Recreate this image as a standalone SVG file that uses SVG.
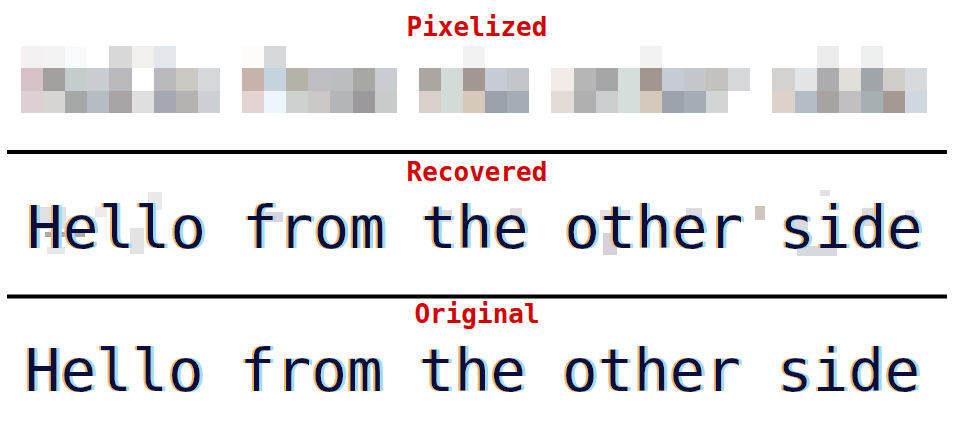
<svg xmlns="http://www.w3.org/2000/svg" width="973" height="425" viewBox="0 0 973 425">
<defs>
<style>
.lbl{font-family:"DejaVu Sans Mono","Liberation Mono",monospace;font-weight:bold;font-size:26px;fill:#d20000;text-anchor:middle}
.big{font-family:"DejaVu Sans Mono","Liberation Mono",monospace;font-size:59.5px;fill:#0e0c3e;filter:url(#ct)}
.rule{stroke:#000;stroke-width:4}
</style>
<filter id="ct" x="-2%" y="-10%" width="104%" height="120%">
<feOffset in="SourceAlpha" dx="-2.5" result="l"/>
<feFlood flood-color="#f7b868" result="lf"/>
<feComposite in="lf" in2="l" operator="in" result="lc"/>
<feOffset in="SourceAlpha" dx="2.5" result="r"/>
<feFlood flood-color="#9cdcff" result="rf"/>
<feComposite in="rf" in2="r" operator="in" result="rc"/>
<feMerge><feMergeNode in="lc"/><feMergeNode in="rc"/><feMergeNode in="SourceGraphic"/></feMerge>
</filter>
</defs>
<rect width="973" height="425" fill="#fff"/>

<g id="pixelized">
<text class="lbl" x="477" y="36">Pixelized</text>
<g id="pixel-grid" shape-rendering="crispEdges">
<!-- row 1 -->
<rect x="21" y="46" width="22.2" height="22.4" fill="#f5f0f1"/>
<rect x="43.1" y="46" width="22.2" height="22.4" fill="#f3f3f3"/>
<rect x="65.2" y="46" width="22.2" height="22.4" fill="#f8fbfe"/>
<rect x="109.4" y="46" width="22.2" height="22.4" fill="#d8d8d9"/>
<rect x="131.5" y="46" width="22.2" height="22.4" fill="#f2f0ec"/>
<rect x="153.6" y="46" width="22.2" height="22.4" fill="#e3e6ea"/>
<rect x="242" y="46" width="22.2" height="22.4" fill="#fdfcfa"/>
<rect x="264.1" y="46" width="22.2" height="22.4" fill="#d7d8dc"/>
<rect x="463" y="46" width="22.2" height="22.4" fill="#f2f2f2"/>
<rect x="639.8" y="46" width="22.2" height="22.4" fill="#f2f2f2"/>
<rect x="816.6" y="46" width="22.2" height="22.4" fill="#ebebeb"/>
<rect x="860.8" y="46" width="22.2" height="22.4" fill="#eef0ef"/>
<!-- row 2 -->
<rect x="21" y="68.3" width="22.2" height="22.4" fill="#d6c2c6"/>
<rect x="43.1" y="68.3" width="22.2" height="22.4" fill="#a49f9f"/>
<rect x="65.2" y="68.3" width="22.2" height="22.4" fill="#c4cccd"/>
<rect x="87.3" y="68.3" width="22.2" height="22.4" fill="#c9ccd1"/>
<rect x="109.4" y="68.3" width="22.2" height="22.4" fill="#b9b8bd"/>
<rect x="131.5" y="68.3" width="22.2" height="22.4" fill="#ffffff"/>
<rect x="153.6" y="68.3" width="22.2" height="22.4" fill="#b8b8bd"/>
<rect x="175.7" y="68.3" width="22.2" height="22.4" fill="#cbc8c3"/>
<rect x="197.8" y="68.3" width="22.2" height="22.4" fill="#d5d7db"/>
<rect x="242" y="68.3" width="22.2" height="22.4" fill="#c6b3aa"/>
<rect x="264.1" y="68.3" width="22.2" height="22.4" fill="#c5d3de"/>
<rect x="286.2" y="68.3" width="22.2" height="22.4" fill="#b5b2a9"/>
<rect x="308.3" y="68.3" width="22.2" height="22.4" fill="#bebdc3"/>
<rect x="330.4" y="68.3" width="22.2" height="22.4" fill="#bcbdc1"/>
<rect x="352.5" y="68.3" width="22.2" height="22.4" fill="#a7a7a3"/>
<rect x="374.6" y="68.3" width="22.2" height="22.4" fill="#c9ccd1"/>
<rect x="418.8" y="68.3" width="22.2" height="22.4" fill="#aca6a3"/>
<rect x="440.9" y="68.3" width="22.2" height="22.4" fill="#d3dad8"/>
<rect x="463" y="68.3" width="22.2" height="22.4" fill="#a39793"/>
<rect x="485.1" y="68.3" width="22.2" height="22.4" fill="#c6ccd3"/>
<rect x="507.2" y="68.3" width="22.2" height="22.4" fill="#c2c5c9"/>
<rect x="551.4" y="68.3" width="22.2" height="22.4" fill="#f2ebe8"/>
<rect x="573.5" y="68.3" width="22.2" height="22.4" fill="#b6b6b8"/>
<rect x="595.6" y="68.3" width="22.2" height="22.4" fill="#a6a6a6"/>
<rect x="617.7" y="68.3" width="22.2" height="22.4" fill="#d6dedc"/>
<rect x="639.8" y="68.3" width="22.2" height="22.4" fill="#a29691"/>
<rect x="661.9" y="68.3" width="22.2" height="22.4" fill="#c5ccd3"/>
<rect x="684" y="68.3" width="22.2" height="22.4" fill="#c3c6ca"/>
<rect x="706.1" y="68.3" width="22.2" height="22.4" fill="#c4c2bf"/>
<rect x="728.2" y="68.3" width="22.2" height="22.4" fill="#d5d7db"/>
<rect x="772.4" y="68.3" width="22.2" height="22.4" fill="#d3d2cf"/>
<rect x="794.5" y="68.3" width="22.2" height="22.4" fill="#e1e5e8"/>
<rect x="816.6" y="68.3" width="22.2" height="22.4" fill="#acabae"/>
<rect x="838.7" y="68.3" width="22.2" height="22.4" fill="#e2dfda"/>
<rect x="860.8" y="68.3" width="22.2" height="22.4" fill="#9fa5a8"/>
<rect x="882.9" y="68.3" width="22.2" height="22.4" fill="#d0ccc7"/>
<rect x="905" y="68.3" width="22.2" height="22.4" fill="#d6dadd"/>
<!-- row 3 -->
<rect x="21" y="90.6" width="22.2" height="22.2" fill="#ddcfd3"/>
<rect x="43.1" y="90.6" width="22.2" height="22.2" fill="#d8d4d2"/>
<rect x="65.2" y="90.6" width="22.2" height="22.2" fill="#a4a9a8"/>
<rect x="87.3" y="90.6" width="22.2" height="22.2" fill="#b5bcc4"/>
<rect x="109.4" y="90.6" width="22.2" height="22.2" fill="#a8a4a5"/>
<rect x="131.5" y="90.6" width="22.2" height="22.2" fill="#dfdfdf"/>
<rect x="153.6" y="90.6" width="22.2" height="22.2" fill="#a5a8b0"/>
<rect x="175.7" y="90.6" width="22.2" height="22.2" fill="#b6b2b2"/>
<rect x="197.8" y="90.6" width="22.2" height="22.2" fill="#ccd0d4"/>
<rect x="242" y="90.6" width="22.2" height="22.2" fill="#e3d3d2"/>
<rect x="264.1" y="90.6" width="22.2" height="22.2" fill="#edf6fd"/>
<rect x="286.2" y="90.6" width="22.2" height="22.2" fill="#cdd1d0"/>
<rect x="308.3" y="90.6" width="22.2" height="22.2" fill="#cbc8c7"/>
<rect x="330.4" y="90.6" width="22.2" height="22.2" fill="#b3b5b8"/>
<rect x="352.5" y="90.6" width="22.2" height="22.2" fill="#9b999c"/>
<rect x="374.6" y="90.6" width="22.2" height="22.2" fill="#c8cbc9"/>
<rect x="418.8" y="90.6" width="22.2" height="22.2" fill="#dad0cb"/>
<rect x="440.9" y="90.6" width="22.2" height="22.2" fill="#d3dad8"/>
<rect x="463" y="90.6" width="22.2" height="22.2" fill="#d6c8bb"/>
<rect x="485.1" y="90.6" width="22.2" height="22.2" fill="#9aa1a8"/>
<rect x="507.2" y="90.6" width="22.2" height="22.2" fill="#a5abb2"/>
<rect x="551.4" y="90.6" width="22.2" height="22.2" fill="#e3dbd6"/>
<rect x="573.5" y="90.6" width="22.2" height="22.2" fill="#b0b0b0"/>
<rect x="595.6" y="90.6" width="22.2" height="22.2" fill="#cbcdcf"/>
<rect x="617.7" y="90.6" width="22.2" height="22.2" fill="#d6dedc"/>
<rect x="639.8" y="90.6" width="22.2" height="22.2" fill="#d5c8bc"/>
<rect x="661.9" y="90.6" width="22.2" height="22.2" fill="#9ca3aa"/>
<rect x="684" y="90.6" width="22.2" height="22.2" fill="#a6acb4"/>
<rect x="706.1" y="90.6" width="22.2" height="22.2" fill="#d1d6d4"/>
<rect x="772.4" y="90.6" width="22.2" height="22.2" fill="#dbd2cc"/>
<rect x="794.5" y="90.6" width="22.2" height="22.2" fill="#b5bdc4"/>
<rect x="816.6" y="90.6" width="22.2" height="22.2" fill="#a7a3a3"/>
<rect x="838.7" y="90.6" width="22.2" height="22.2" fill="#c1bfc2"/>
<rect x="860.8" y="90.6" width="22.2" height="22.2" fill="#a6afb1"/>
<rect x="882.9" y="90.6" width="22.2" height="22.2" fill="#a39a93"/>
<rect x="905" y="90.6" width="22.2" height="22.2" fill="#d1d7de"/>
</g>
</g>

<line id="rule-1" class="rule" x1="7" y1="152" x2="947" y2="152"/>

<g id="recovered">
<text class="lbl" x="477" y="181">Recovered</text>
<g id="recovered-ghosts" shape-rendering="crispEdges" opacity="0.5">
<rect x="36" y="207" width="30" height="22" fill="#c4c4c6"/>
<rect x="45" y="232" width="40" height="5" fill="#5a5a60"/>
<rect x="47" y="247" width="18" height="7" fill="#d0d0d2"/>
<rect x="95" y="207" width="12" height="10" fill="#d8d8e0"/>
<rect x="130" y="228" width="14" height="26" fill="#c8c8cc"/>
<rect x="148" y="192" width="14" height="18" fill="#d4d4d8"/>
<rect x="265" y="212" width="18" height="10" fill="#b8a8c0"/>
<rect x="428" y="210" width="24" height="12" fill="#c0c0c4"/>
<rect x="510" y="208" width="12" height="14" fill="#c8b8c0"/>
<rect x="600" y="210" width="30" height="10" fill="#c8c8cc"/>
<rect x="603" y="233" width="14" height="22" fill="#b0a0b8"/>
<rect x="686" y="208" width="16" height="12" fill="#c0b8c8"/>
<rect x="755" y="206" width="10" height="14" fill="#a09080"/>
<rect x="794" y="220" width="14" height="10" fill="#b8b8bc"/>
<rect x="797" y="246" width="40" height="10" fill="#b0b4c0"/>
<rect x="820" y="190" width="10" height="6" fill="#c8c0d0"/>
<rect x="862" y="208" width="14" height="18" fill="#b8b8bc"/>
<rect x="905" y="210" width="10" height="8" fill="#d0c8d8"/>
</g>
<text class="big" x="27" y="248">Hello from the other side</text>
</g>

<line id="rule-2" class="rule" x1="7" y1="296.5" x2="947" y2="296.5"/>

<g id="original">
<text class="lbl" x="477" y="323">Original</text>
<text class="big" x="24.7" y="391">Hello from the other side</text>
</g>
</svg>
